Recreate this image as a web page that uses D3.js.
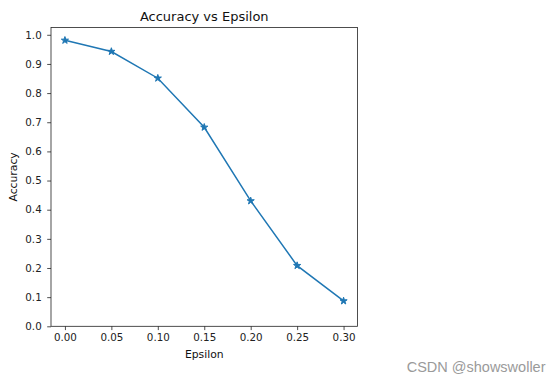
<!DOCTYPE html>
<html>
<head>
<meta charset="utf-8">
<script src="https://cdn.jsdelivr.net/npm/d3@7"></script>
<style>
  body { margin: 0; background: #fff; }
  text { font-family: "DejaVu Sans", sans-serif; }
</style>
</head>
<body>
<svg id="chart" width="556" height="382"></svg>
<script>
/* data */
var epsilons = [0, 0.05, 0.1, 0.15, 0.2, 0.25, 0.3];
var accuracies = [0.981, 0.9426, 0.851, 0.6826, 0.4301, 0.2082, 0.0869];
var xTicks = [0, 0.05, 0.1, 0.15, 0.2, 0.25, 0.3];
var yTicks = [0, 0.1, 0.2, 0.3, 0.4, 0.5, 0.6, 0.7, 0.8, 0.9, 1.0];

var svg = d3.select('#chart');
// plot box (note: "top" is taken by window.top, so use other names)
var plotL = 51, plotR = 357.5, plotT = 27.5, plotB = 326.3;

var x = d3.scaleLinear().domain([-0.015, 0.315]).range([plotL, plotR]);
var y = d3.scaleLinear().domain([0, 1.025]).range([plotB, plotT]);

/* axes, matplotlib look */
var xAxis = svg.append('g')
  .attr('transform', 'translate(0,' + plotB + ')')
  .call(d3.axisBottom(x).tickValues(xTicks).tickFormat(d3.format('.2f')).tickSizeOuter(0).tickSize(3.8).tickPadding(3.8));
var yAxis = svg.append('g')
  .attr('transform', 'translate(' + plotL + ',0)')
  .call(d3.axisLeft(y).tickValues(yTicks).tickFormat(d3.format('.1f')).tickSizeOuter(0).tickSize(3.8).tickPadding(5.5));

[xAxis, yAxis].forEach(function(a) {
  a.select('.domain').remove();
  a.selectAll('line').attr('stroke', '#222').attr('stroke-width', 0.8);
  a.selectAll('text').attr('font-size', 10.3).attr('fill', '#222')
    .style('font-family', '"DejaVu Sans", sans-serif');
});

/* frame */
svg.append('rect')
  .attr('x', plotL).attr('y', plotT)
  .attr('width', plotR - plotL).attr('height', plotB - plotT)
  .attr('fill', 'none').attr('stroke', '#222').attr('stroke-width', 0.8);

/* line + star markers */
var pts = epsilons.map(function(e, i) { return [e, accuracies[i]]; });
var line = d3.line().x(function(d) { return x(d[0]); }).y(function(d) { return y(d[1]); });
svg.append('path').datum(pts)
  .attr('d', line)
  .attr('fill', 'none').attr('stroke', '#1f77b4').attr('stroke-width', 1.5);

svg.selectAll('.star').data(pts).enter().append('path')
  .attr('class', 'star')
  .attr('transform', function(d) { return 'translate(' + x(d[0]) + ',' + y(d[1]) + ')'; })
  .attr('d', d3.symbol().type(d3.symbolStar).size(16))
  .attr('fill', '#1f77b4').attr('stroke', '#1f77b4').attr('stroke-width', 1);

/* titles */
svg.append('text')
  .attr('x', (plotL + plotR) / 2).attr('y', plotT - 7)
  .attr('text-anchor', 'middle').attr('font-size', 13).attr('fill', '#111')
  .text('Accuracy vs Epsilon');
svg.append('text')
  .attr('x', (plotL + plotR) / 2).attr('y', 358.3)
  .attr('text-anchor', 'middle').attr('font-size', 10.8).attr('fill', '#111')
  .text('Epsilon');
svg.append('text')
  .attr('transform', 'translate(16.7,' + ((plotT + plotB) / 2) + ') rotate(-90)')
  .attr('text-anchor', 'middle').attr('font-size', 10.8).attr('fill', '#111')
  .text('Accuracy');

/* watermark */
svg.append('text')
  .attr('x', 545.5).attr('y', 372)
  .attr('text-anchor', 'end').attr('font-size', 14.5)
  .attr('fill', '#9a9a9a')
  .style('font-family', '"Liberation Sans", Arial, sans-serif')
  .text('CSDN @showswoller');
</script>
</body>
</html>
